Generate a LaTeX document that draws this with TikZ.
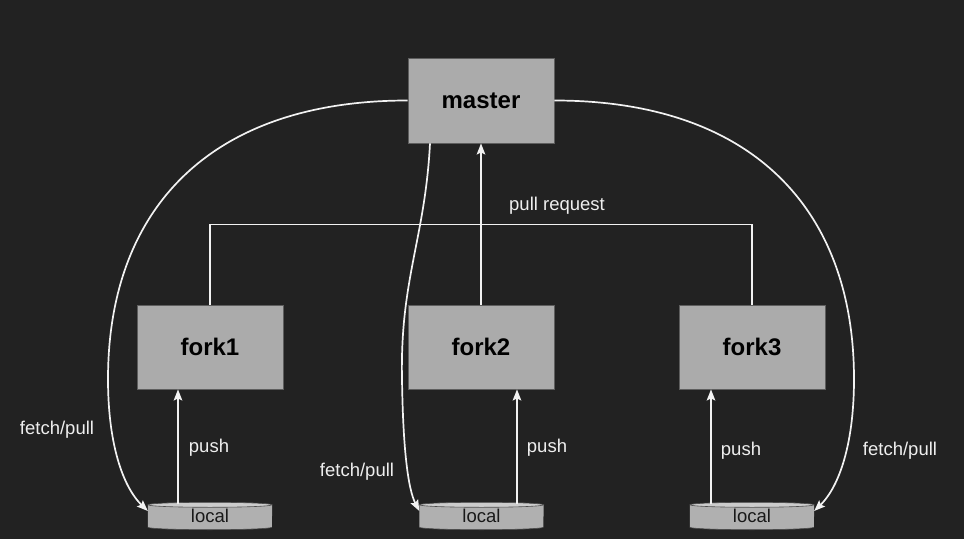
\documentclass[tikz,border=0pt]{standalone}
\usepackage{fontspec}
\setmainfont{Liberation Sans}
\usetikzlibrary{arrows.meta}
\definecolor{bgc}{HTML}{222222}
\definecolor{boxfill}{HTML}{ABABAB}
\definecolor{boxline}{HTML}{5E5E5E}
\definecolor{cylfill}{HTML}{B0B0B0}
\definecolor{cyltopc}{HTML}{CCCCCC}
\definecolor{linec}{HTML}{F2F2F2}
\definecolor{txtc}{HTML}{EEEEEE}
\pgfdeclarelayer{back}
\pgfdeclarelayer{bg}
\pgfsetlayers{back,bg,main}
\begin{document}
\begin{tikzpicture}[x=1pt,y=1pt,
  repo/.style={draw=boxline,line width=0.8pt,fill=boxfill,minimum width=146pt,minimum height=85pt,inner sep=0pt,
    font=\fontsize{24}{26}\selectfont\bfseries,text=black},
  localbox/.style={minimum width=124pt,minimum height=22pt,inner sep=0pt,font=\fontsize{18.5}{20}\selectfont,text=black!90},
  lbl/.style={font=\fontsize{18.5}{20}\selectfont,text=txtc,anchor=base,inner sep=0pt},
  conn/.style={draw=linec,line width=1.7pt},
  arr/.style={conn,-{Stealth[length=11pt,width=8.5pt,inset=2pt]}},
  cylbody/.style={fill=cylfill},
  cylline/.style={draw=black!70,line width=0.6pt},
  cyltop/.style={fill=cyltopc,draw=black!70,line width=0.6pt}]
\begin{pgfonlayer}{back}
\fill[bgc] (0,0) rectangle (964,539);
\end{pgfonlayer}
\useasboundingbox (0,0) rectangle (964,539);

\node[repo] (m) at (481,438.5) {master};
\node[repo,minimum height=84pt] (f1) at (210,192) {fork1};
\node[repo,minimum height=84pt] (f2) at (481,192) {fork2};
\node[repo,minimum height=84pt] (f3) at (752,192) {fork3};

\node[localbox] (l1) at (210,23) {local};
\node[localbox] (l2) at (481.5,23) {local};
\node[localbox] (l3) at (752,23) {local};

\begin{pgfonlayer}{bg}
\foreach \n in {l1,l2,l3}{
  \fill[cylbody] (\n.north west) -- (\n.south west) arc[start angle=180,end angle=360,x radius=62pt,y radius=2.5pt] -- (\n.north east) -- cycle;
  \draw[cylline] (\n.south west) arc[start angle=180,end angle=360,x radius=62pt,y radius=2.5pt];
  \path[cyltop] (\n.north) ellipse[x radius=62pt,y radius=2.5pt];
}
\end{pgfonlayer}

% pull request
\draw[conn] (f1.north) -- ++(0,80) -| (f3.north);
\draw[arr] (f2.north) -- (m.south);
\node[lbl] (pr) at (557,328) {pull request};

% push
\draw[arr] ([xshift=-32pt,yshift=1pt]l1.north) -- ([xshift=-32pt]f1.south);
\draw[arr] ([xshift=35.5pt,yshift=1pt]l2.north) -- ([xshift=36pt]f2.south);
\draw[arr] ([xshift=-41pt,yshift=1pt]l3.north) -- ([xshift=-41pt]f3.south);
\node[lbl] (p1) at (209,87) {push};
\node[lbl] (p2) at (547,87) {push};
\node[lbl] (p3) at (741,84) {push};

% fetch/pull
\draw[arr] (m.west) .. controls (210,438.5) and (108,330) .. (108,160)
  .. controls (108,90) and (125,50) .. ([yshift=5pt]l1.west);
\draw[arr] (m.east) .. controls (752,438.5) and (854,330) .. (854,160)
  .. controls (854,90) and (837,50) .. ([yshift=5pt]l3.east);
\draw[arr] ([xshift=-51pt]m.south) .. controls (425,300) and (400,260) .. (402,160)
  .. controls (403,90) and (408,50) .. ([yshift=5pt]l2.west);
\node[lbl] (fp1) at (57,105) {fetch/pull};
\node[lbl] (fp2) at (357,63) {fetch/pull};
\node[lbl] (fp3) at (900,84) {fetch/pull};
\end{tikzpicture}
\end{document}
